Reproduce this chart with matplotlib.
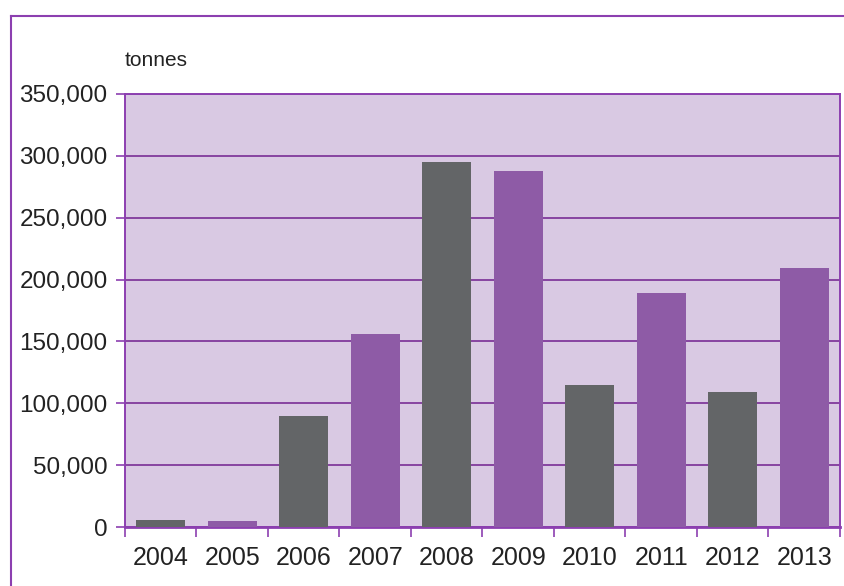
"""年別トン数の棒グラフ（2004–2013）。"""
import matplotlib
matplotlib.use("Agg")
import matplotlib.pyplot as plt
from matplotlib.lines import Line2D
from matplotlib.ticker import FuncFormatter, FixedLocator
import numpy as np

years = ["2004", "2005", "2006", "2007", "2008", "2009", "2010", "2011", "2012", "2013"]
tonnes = [6000, 5000, 90000, 156000, 295000, 288000, 115000, 189000, 109000, 209000]

GREY = "#636567"
PURPLE = "#8e5ba6"
FRAME = "#8c3fb0"
GRID = "#7a2e96"
BG = "#d9c9e3"
TEXT = "#222222"

plt.rcParams["font.family"] = ["Liberation Sans", "DejaVu Sans"]

fig = plt.figure(figsize=(8.45, 5.86), dpi=100)
ax = fig.add_axes([125 / 845, 1 - 527 / 586, 715 / 845, 433 / 586])
ax.set_facecolor(BG)

x = np.arange(len(years))
colors = [GREY if i % 2 == 0 else PURPLE for i in range(len(years))]
ax.bar(x, tonnes, width=0.68, color=colors, zorder=3)

ax.set_xlim(-0.5, len(years) - 0.5)
ax.set_ylim(0, 350000)
ax.set_yticks(np.arange(0, 350001, 50000))
ax.yaxis.set_major_formatter(FuncFormatter(lambda v, _: f"{int(v):,}"))
ax.grid(axis="y", color=GRID, lw=1.2, zorder=1)

ax.set_xticks(x)
ax.set_xticklabels(years)
ax.xaxis.set_minor_locator(FixedLocator(np.arange(-0.5, len(years), 1.0)))
ax.tick_params(axis="x", which="major", length=0, pad=14, labelsize=18, colors=TEXT)
ax.tick_params(axis="x", which="minor", length=7, width=1.2, color=FRAME, direction="out")
ax.tick_params(axis="y", length=6.5, width=1.2, color=FRAME, pad=6, labelsize=17.5, labelcolor=TEXT)

for side, s in ax.spines.items():
    s.set_color(FRAME)
    s.set_linewidth(1.4)
ax.spines["bottom"].set_linewidth(2)

fig.text(125 / 845, 1 - 61 / 586, "tonnes", fontsize=15, color=TEXT, va="center", ha="left")

# 外枠（上と左のみ見える）
fig.add_artist(Line2D([11 / 845, 11 / 845], [0, 1 - 16 / 586], color=FRAME, lw=1.5))
fig.add_artist(Line2D([11 / 845, 1], [1 - 16 / 586, 1 - 16 / 586], color=FRAME, lw=1.5))

fig.savefig("out.png", dpi=100)
